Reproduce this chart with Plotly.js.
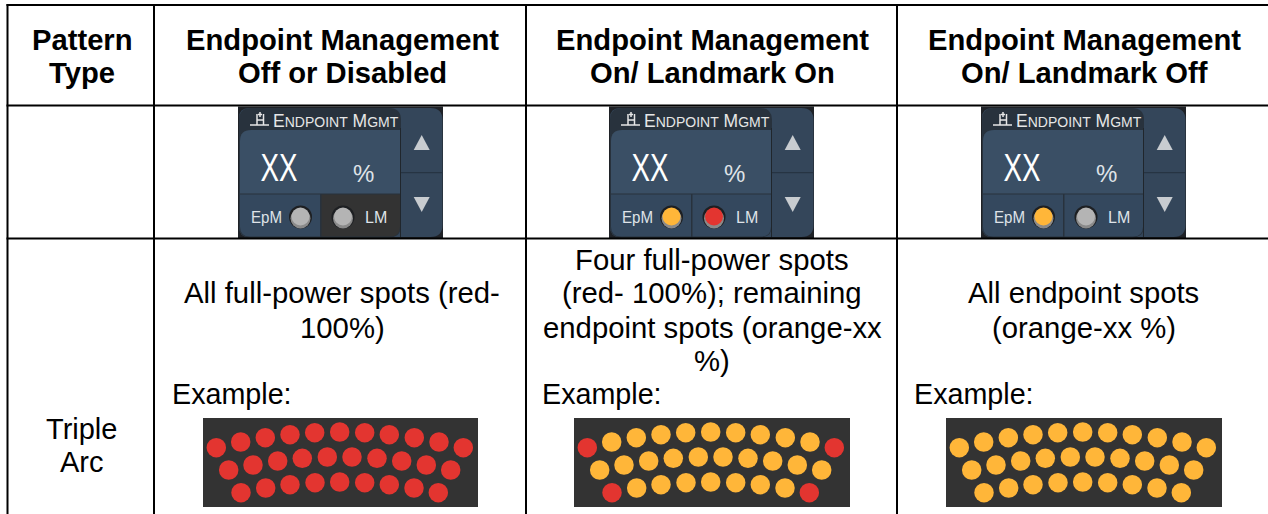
<!DOCTYPE html>
<html><head><meta charset="utf-8">
<script src="https://cdn.plot.ly/plotly-3.0.1.min.js"></script>
<style>html,body{margin:0;padding:0;background:#fff;overflow:hidden}#c{width:1268px;height:514px}</style>
</head><body><div id="c"></div>
<script>
const headers = [["Pattern","Type"],["Endpoint Management","Off or Disabled"],["Endpoint Management","On/ Landmark On"],["Endpoint Management","On/ Landmark Off"]];
const rowLabel = ["Triple","Arc"];
const descriptions = [
  ["All full-power spots (red-","100%)"],
  ["Four full-power spots","(red- 100%); remaining","endpoint spots (orange-xx","%)"],
  ["All endpoint spots","(orange-xx %)"]
];
const exampleLabel = "Example:";
const spotX = [216.3,240.7,265.3,290,314.7,339.7,364.7,389.3,414.3,439,463.3,
               228.7,253,277.7,302.3,327.3,352,377,401.7,426.3,450.7,
               241,265.7,290,315,339.7,364.7,389.3,414,438.3];
const spotY = [447.7,442,437.7,434.7,432.7,432,432.7,434.7,437.7,442,447.7,
               470,465,461,458.3,457,457,458.3,461,465,470,
               492.7,488,484.7,482.7,482,482.7,484.7,488,492.7];
const RED="#e33530", ORANGE="#ffb639";
const spotColors = [
  spotX.map(()=>RED),
  spotX.map((_,i)=>[0,10,21,29].includes(i)?RED:ORANGE),
  spotX.map(()=>ORANGE)
];
const panelShift = [0,371,743];
const indicatorEpm = ["#b4b4b4",ORANGE,ORANGE];
const indicatorLm = ["#b4b4b4",RED,"#b4b4b4"];
const lmCell = ["#333333","#34485e","#34485e"];
const epmCell = ["#34485e","#34485e","#34485e"];

const shapes=[], ann=[];
const SANS='Liberation Sans, Arial, sans-serif';
const T=(x,y,text,size,o={})=>ann.push(Object.assign({x,y,xref:'x',yref:'y',text,showarrow:false,xanchor:'center',yanchor:'middle',borderpad:0,
  font:{family:SANS,size,color:'#000'}},o));
const L=(x0,y0,x1,y1)=>shapes.push({type:'line',x0,y0,x1,y1,xref:'x',yref:'y',line:{color:'#000',width:2},layer:'above'});
const L2=(x0,y0,x1,y1,c,w)=>shapes.push({type:'line',x0,y0,x1,y1,xref:'x',yref:'y',line:{color:c,width:w||1},layer:'below'});
const R=(x0,y0,x1,y1,fill,layer='below')=>shapes.push({type:'rect',x0,y0,x1,y1,xref:'x',yref:'y',fillcolor:fill,line:{width:0},layer});
const RR=(x0,y0,x1,y1,r,fill)=>{
  const [a,b,c,d]=r;
  shapes.push({type:'path',xref:'x',yref:'y',layer:'below',fillcolor:fill,line:{width:0},
  path:`M${x0+a},${y0} L${x1-b},${y0} Q${x1},${y0} ${x1},${y0+b} L${x1},${y1-c} Q${x1},${y1} ${x1-c},${y1} L${x0+d},${y1} Q${x0},${y1} ${x0},${y1-d} L${x0},${y0+a} Q${x0},${y0} ${x0+a},${y0} Z`});};
const C=(cx,cy,r,fill)=>shapes.push({type:'circle',xref:'x',yref:'y',x0:cx-r,x1:cx+r,y0:cy-r,y1:cy+r,fillcolor:fill,line:{width:0},layer:'below'});
const colX=[7.5,154,526,897], rowY=[5,105.5,238.5];
colX.forEach(x=>L(x,4,x,514));
rowY.forEach(y=>L(6.5,y,1268,y));

const headCx=[82,342,712,1084];
headers.forEach((h,i)=>{T(headCx[i],40,'<b>'+h[0]+'</b>',29.2);T(headCx[i],73,'<b>'+h[1]+'</b>',29.2);});
T(81.5,429,rowLabel[0],29);T(81.5,462,rowLabel[1],29);
const descY=[[292,327],[259,292,327,360],[292,327]];
descriptions.forEach((d,i)=>d.forEach((s,j)=>T(headCx[i+1]-(i==2?0.5:0),descY[i][j],s,29.3)));
[170.5,540.5,912.5].forEach(x=>T(x,394,exampleLabel,28.7,{xanchor:'left'}));

panelShift.forEach((dx,i)=>{
  R(238+dx,106.5,443+dx,238,'#1f2227');
  RR(239+dx,108,442.5+dx,237,[10,12,12,10],'#34465a');
  RR(239+dx,108,401+dx,237.5,[12,12,12,12],'#28323d');
  RR(240+dx,130,400+dx,193.5,[11,0,0,0],'#3a4f65');
  RR(240+dx,194.5,320+dx,236.5,[0,0,0,10],epmCell[i]);
  RR(321.5+dx,194.5,400+dx,236.5,[0,0,10,0],lmCell[i]);
  L2(400.5+dx,128,400.5+dx,237,'#20262c');
  L2(401+dx,172.7,442+dx,172.7,'#24313e');
  // header glyph
  L2(250+dx,125,269+dx,125,'#e6e6e6',1.5);
  L2(257+dx,114,257+dx,125,'#e6e6e6',1.5);
  L2(263.5+dx,114,263.5+dx,125,'#e6e6e6',1.5);
  L2(257+dx,120,263.5+dx,120,'#e6e6e6',1.5);
  L2(260+dx,112,260+dx,117,'#e6e6e6',1.5);
  L2(258+dx,114.5,262+dx,114.5,'#e6e6e6',1.5);
  [300.5,343].forEach((cx,k)=>{
    C(cx+dx,217,11.5,'#1d1f22'); C(cx+dx,218.5,10,'#8a8a8a');
    C(cx+dx,216.5,9,k==0?indicatorEpm[i]:indicatorLm[i]);
  });
  shapes.push({type:'path',xref:'x',yref:'y',layer:'below',fillcolor:'#c8ccd0',line:{width:0},path:`M${413.7+dx},150 L${429.7+dx},150 L${421.7+dx},135 Z`});
  shapes.push({type:'path',xref:'x',yref:'y',layer:'below',fillcolor:'#c8ccd0',line:{width:0},path:`M${413.7+dx},197 L${429.7+dx},197 L${421.7+dx},212 Z`});
  T(335.5+dx,120.5,'E<span style="font-size:14px">NDPOINT</span> M<span style="font-size:14px">GMT</span>',17.5,{font:{family:SANS,size:17.5,color:'#e6e6e6'}});
  T(278.7+dx,167.5,'XX',39,{font:{family:SANS,size:39,color:'#ffffff'}});
  T(363.7+dx,173,'%',24,{font:{family:SANS,size:24,color:'#dfe3e8'}});
  T(266+dx,217,'EpM',16,{font:{family:SANS,size:16,color:'#dfe3e8'}});
  T(376+dx,217,'LM',16,{font:{family:SANS,size:16,color:'#dfe3e8'}});
  R(203+dx,418,478+[0,372,744][i],507,'#333333');
});

const traces=spotColors.map((colors,i)=>({
  type:'scatter',mode:'markers',x:spotX.map(v=>v+panelShift[i]),y:spotY,
  marker:{size:19.5,color:colors,line:{width:0}},hoverinfo:'skip',showlegend:false,cliponaxis:false
}));
Plotly.newPlot('c',traces,{
  width:1268,height:514,margin:{l:0,r:0,t:0,b:0,pad:0},paper_bgcolor:'#fff',plot_bgcolor:'#fff',showlegend:false,
  xaxis:{range:[0,1268],visible:false,fixedrange:true},
  yaxis:{range:[514,0],visible:false,fixedrange:true},
  shapes,annotations:ann
},{displayModeBar:false,staticPlot:true}).then(()=>{
  const fit={'XX':37,'EpM':31};
  document.querySelectorAll('.annotation-text').forEach(t=>{
    const w=fit[t.textContent];
    if(w){t.setAttribute('textLength',w);t.setAttribute('lengthAdjust','spacingAndGlyphs');}
  });
});
</script></body></html>
